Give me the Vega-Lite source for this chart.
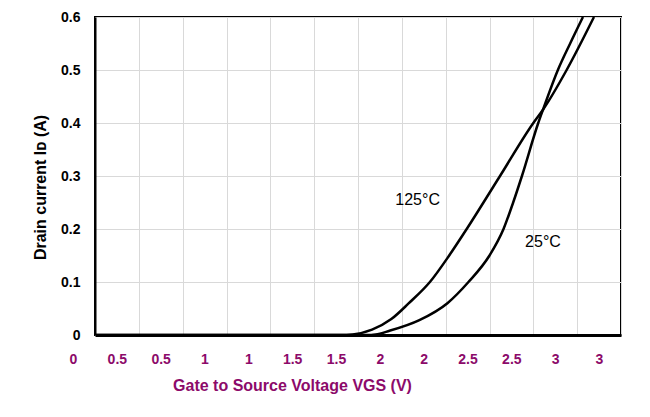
{
  "$schema": "https://vega.github.io/schema/vega-lite/v6.json",
  "width": 526,
  "height": 318,
  "autosize": {"type": "none"},
  "padding": {"left": 95, "top": 17, "right": 29, "bottom": 82},
  "background": "white",
  "config": {
    "view": {"stroke": "black", "strokeWidth": 2},
    "font": "Liberation Sans"
  },
  "layer": [
    {
      "data": {
        "values": [
          {"T": "125°C", "V": 0, "I": 0},
          {"T": "125°C", "V": 1.40, "I": 0},
          {"T": "125°C", "V": 1.47, "I": 0.001},
          {"T": "125°C", "V": 1.58, "I": 0.010},
          {"T": "125°C", "V": 1.69, "I": 0.030},
          {"T": "125°C", "V": 1.79, "I": 0.060},
          {"T": "125°C", "V": 1.91, "I": 0.100},
          {"T": "125°C", "V": 2.02, "I": 0.150},
          {"T": "125°C", "V": 2.12, "I": 0.200},
          {"T": "125°C", "V": 2.31, "I": 0.300},
          {"T": "125°C", "V": 2.50, "I": 0.400},
          {"T": "125°C", "V": 2.555, "I": 0.425},
          {"T": "125°C", "V": 2.69, "I": 0.500},
          {"T": "125°C", "V": 2.846, "I": 0.600},
          {"T": "25°C", "V": 0, "I": 0},
          {"T": "25°C", "V": 1.55, "I": 0},
          {"T": "25°C", "V": 1.60, "I": 0.001},
          {"T": "25°C", "V": 1.68, "I": 0.008},
          {"T": "25°C", "V": 1.85, "I": 0.028},
          {"T": "25°C", "V": 2.01, "I": 0.060},
          {"T": "25°C", "V": 2.13, "I": 0.100},
          {"T": "25°C", "V": 2.25, "I": 0.150},
          {"T": "25°C", "V": 2.33, "I": 0.200},
          {"T": "25°C", "V": 2.385, "I": 0.250},
          {"T": "25°C", "V": 2.435, "I": 0.300},
          {"T": "25°C", "V": 2.528, "I": 0.400},
          {"T": "25°C", "V": 2.555, "I": 0.425},
          {"T": "25°C", "V": 2.64, "I": 0.500},
          {"T": "25°C", "V": 2.71, "I": 0.550},
          {"T": "25°C", "V": 2.783, "I": 0.600}
        ]
      },
      "mark": {"type": "line", "color": "black", "strokeWidth": 2.5, "interpolate": "monotone", "clip": true},
      "encoding": {
        "x": {
          "field": "V", "type": "quantitative",
          "scale": {"domain": [0, 3], "nice": false, "zero": true},
          "axis": {
            "values": [0, 0.25, 0.5, 0.75, 1, 1.25, 1.5, 1.75, 2, 2.25, 2.5, 2.75, 3],
            "labelExpr": "'' + ceil(datum.value * 2) / 2",
            "grid": true, "gridColor": "#d9d9d9", "gridWidth": 1,
            "ticks": false,
            "domainColor": "black", "domainWidth": 3,
            "labelFont": "Liberation Sans", "labelFontWeight": "bold", "labelFontSize": 14,
            "labelColor": "#8c0a6a", "labelPadding": 17, "labelOffset": -22,
            "labelOverlap": false, "labelFlush": false,
            "title": "Gate to  Source Voltage VGS (V)",
            "titleFont": "Liberation Sans", "titleFontWeight": "bold", "titleFontSize": 16,
            "titleColor": "#8c0a6a",
            "titleX": 197, "titleY": 42, "titleAlign": "center", "titleBaseline": "top"
          }
        },
        "y": {
          "field": "I", "type": "quantitative",
          "scale": {"domain": [0, 0.6], "nice": false},
          "axis": {
            "values": [0, 0.1, 0.2, 0.3, 0.4, 0.5, 0.6],
            "format": ".1~f",
            "grid": true, "gridColor": "#d9d9d9", "gridWidth": 1,
            "ticks": false,
            "domainColor": "black", "domainWidth": 2,
            "labelFont": "Liberation Sans", "labelFontWeight": "bold", "labelFontSize": 14,
            "labelColor": "black", "labelPadding": 15,
            "title": "Drain current Iᴅ (A)",
            "titleFont": "Liberation Sans", "titleFontWeight": "bold", "titleFontSize": 16,
            "titleColor": "black",
            "titleX": -55, "titleY": 170, "titleAngle": -90, "titleAlign": "center", "titleBaseline": "middle"
          }
        },
        "detail": {"field": "T", "type": "nominal"}
      }
    },
    {
      "data": {
        "values": [
          {"label": "125°C", "V": 1.84, "I": 0.255},
          {"label": "25°C", "V": 2.555, "I": 0.175}
        ]
      },
      "mark": {"type": "text", "font": "Liberation Sans", "fontSize": 16, "color": "black", "align": "center", "baseline": "middle"},
      "encoding": {
        "x": {"field": "V", "type": "quantitative"},
        "y": {"field": "I", "type": "quantitative"},
        "text": {"field": "label", "type": "nominal"}
      }
    }
  ]
}
